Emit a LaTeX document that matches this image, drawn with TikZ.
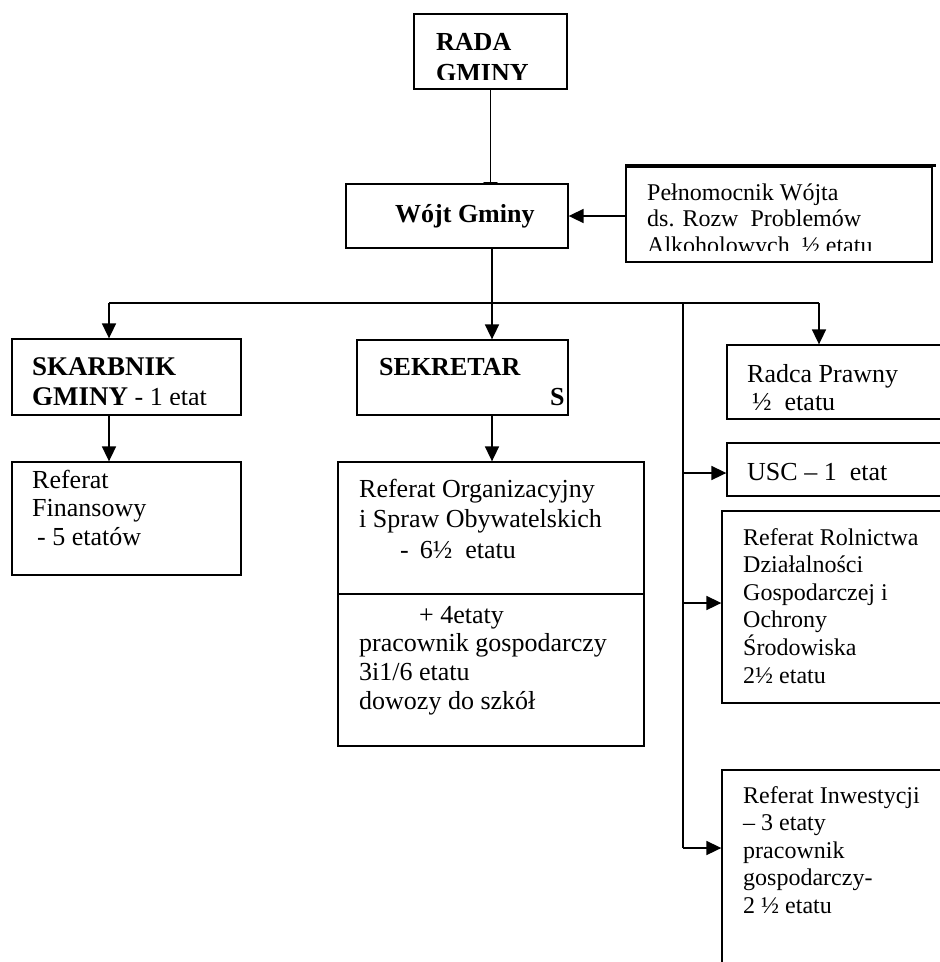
\documentclass[tikz,border=0pt]{standalone}
\usepackage{fontspec}
\setmainfont{Liberation Serif}
\usetikzlibrary{arrows.meta,backgrounds}
\newcommand\mylines[2]{\vtop{\baselineskip=#1\lineskiplimit=-100pt\lineskip=0pt\halign{##\hfil\cr#2\crcr}}}
\begin{document}
\begin{tikzpicture}[x=1pt,y=-1pt,
  box/.style={draw,line width=1.3pt,fill=white,inner sep=0pt},
  txt/.style={anchor=base west,inner sep=0pt,font=\fontsize{26}{30}\selectfont},
  stxt/.style={anchor=base west,inner sep=0pt,font=\fontsize{24}{27}\selectfont},
  btxt/.style={anchor=base west,inner sep=0pt,font=\fontsize{26}{30}\selectfont\bfseries},
  conn/.style={line width=1.7pt},
  arr/.style={conn,-{Triangle[length=15pt,width=14pt]}}]
\useasboundingbox (0,0) rectangle (940,962);
\clip (0,0) rectangle (940,962);
% boxes
\node[box,minimum width=153pt,minimum height=75pt] (rada) at (490.5,51.5) {};
\node[box,minimum width=222pt,minimum height=64pt] (wojt) at (457,216) {};
\node[box,minimum width=306pt,minimum height=95pt] (peln) at (779,214.5) {};
\node[box,minimum width=229pt,minimum height=76pt] (skarb) at (126.5,377) {};
\node[box,minimum width=229pt,minimum height=113pt] (fin) at (126.5,518.5) {};
\node[box,minimum width=211pt,minimum height=75pt] (sekr) at (462.5,377.5) {};
\node[box,minimum width=306pt,minimum height=284pt] (org) at (491,604) {};
\node[box,minimum width=233pt,minimum height=74pt] (radca) at (843.5,382) {};
\node[box,minimum width=233pt,minimum height=53pt] (usc) at (843.5,469.5) {};
\node[box,minimum width=238pt,minimum height=192pt] (rol) at (841,607) {};
\node[box,minimum width=238pt,minimum height=230pt] (inw) at (841,885) {};
\draw[line width=2.6pt] ([yshift=1pt]peln.north west) -- ++(311,0);
\draw[line width=1.3pt] (org.west |- 0,594) -- (org.east |- 0,594);
% texts
\begin{scope}
  \clip (414,14) rectangle (567,79);
  \node[btxt] (trada) at (436,50) {\mylines{31pt}{RADA\cr GMINY}};
\end{scope}
\node[btxt] (twojt) at (395,222) {Wójt Gminy};
\begin{scope}
  \clip (626,167) rectangle (932,250);
  \node[stxt] (tpeln) at (647,200) {\mylines{26.5pt}{Pełnomocnik Wójta\cr ds. Rozw\ \ Problemów\cr Alkoholowych\ \ ½ etatu}};
\end{scope}
\begin{scope}
  \clip (12,339) rectangle (241,404);
  \node[txt] (tskarb) at (32,375) {\mylines{30pt}{{\fontsize{27}{30}\selectfont\bfseries SKARBNIK}\cr {\fontsize{27}{30}\selectfont\bfseries GMINY} - 1 etat}};
\end{scope}
\node[txt] (tfin) at (32,488) {\mylines{28.5pt}{Referat\cr Finansowy\cr \kern5pt - 5 etatów}};
\node[btxt] (tsekr) at (379,375) {SEKRETAR};
\node[btxt] (tsekrs) at (550,405) {S};
\node[txt] (torg) at (359,497) {\mylines{30pt}{Referat Organizacyjny\cr i Spraw Obywatelskich}};
\node[txt] (torg2) at (400,558) {-\kern11pt 6½\ \ etatu};
\node[txt] (torg3) at (419,623) {+ 4etaty};
\node[txt] (torg4) at (359,651) {\mylines{29pt}{pracownik gospodarczy\cr 3i1/6 etatu\cr dowozy do szkół}};
\node[txt] (tradca) at (747,382) {\mylines{28pt}{Radca Prawny\cr \kern5pt ½\ \ etatu}};
\node[txt] (tusc) at (747,480) {USC – 1\ \ etat};
\node[stxt] (trol) at (743,545) {\mylines{27.6pt}{Referat Rolnictwa\cr Działalności\cr Gospodarczej i\cr Ochrony\cr Środowiska\cr 2½ etatu}};
\node[stxt] (tinw) at (743,803) {\mylines{27.5pt}{Referat Inwestycji\cr – 3 etaty\cr pracownik\cr gospodarczy-\cr 2 ½ etatu}};
% connectors
\coordinate (wojtin) at (490.5,197);
\coordinate (b1) at (109,303);
\coordinate (b2) at (492,303);
\coordinate (b3) at (819,303);
\coordinate (b4) at (683,303);
\coordinate (b5) at (683,848);
\begin{scope}[on background layer]
  \draw[arr] (rada.south) -- (wojtin);
  \draw[conn] (wojt.south -| b2) -- (b2);
  \draw[conn] (b1) -- (b3);
  \draw[conn] (b4) -- (b5);
\end{scope}
\draw[arr] (peln.west |- 0,216) -- (wojt.east |- 0,216);
\draw[arr] (b1) -- (b1 |- skarb.north);
\draw[arr] (b2) -- (b2 |- sekr.north);
\draw[arr] (b3) -- (b3 |- radca.north);
\draw[arr] (skarb.south -| b1) -- (fin.north -| b1);
\draw[arr] (sekr.south -| b2) -- (org.north -| b2);
\draw[arr] (b4 |- 0,473) -- (usc.west |- 0,473);
\draw[arr] (b4 |- 0,603) -- (rol.west |- 0,603);
\draw[arr] (b5) -- (b5 -| inw.west);
\end{tikzpicture}
\end{document}
